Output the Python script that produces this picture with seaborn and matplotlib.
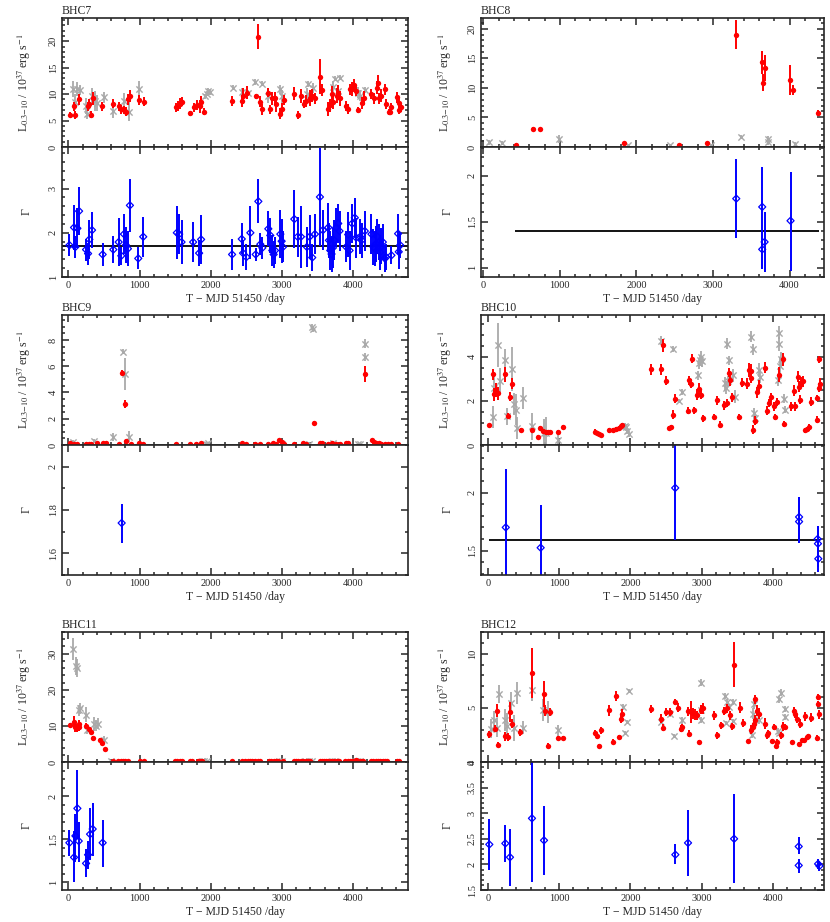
import numpy as np
import matplotlib
matplotlib.use("Agg")
import matplotlib.pyplot as plt
from matplotlib.ticker import MultipleLocator, FuncFormatter
import seaborn as sns

# ---------------- data ----------------
# BHC7
bhc7_red_x = [23, 79, 98, 150, 271, 290, 313, 341, 477, 631,
              710, 734, 780, 808, 832, 864, 986, 1061, 1509, 1542,
              1565, 1589, 1701, 1762, 1808, 1846, 1864, 1902, 2299, 2435,
              2453, 2509, 2631, 2668, 2696, 2724, 2808, 2836, 2864, 2902,
              2920, 2967, 2995, 3023, 3173, 3220, 3266, 3304, 3341, 3388,
              3425, 3463, 3533, 3565, 3650, 3668, 3696, 3715, 3771, 3790,
              3818, 3902, 3930, 3949, 3986, 4005, 4033, 4070, 4126, 4145,
              4257, 4294, 4332, 4350, 4369, 4388, 4444, 4463, 4500, 4519,
              4537, 4621, 4640, 4650, 4668]
bhc7_red_y = [6.1, 7.7, 6.1, 9.0, 7.7, 8.2, 6.1, 9.2, 7.7, 8.2,
              7.7, 7.1, 7.0, 6.7, 9.0, 9.7, 8.9, 8.6, 7.5, 7.8,
              8.2, 8.6, 6.4, 7.5, 7.9, 7.7, 8.6, 6.7, 8.7, 8.7,
              9.7, 10.3, 9.6, 20.9, 8.6, 7.1, 10.3, 7.1, 9.2, 9.2,
              8.1, 6.3, 7.2, 8.9, 10.1, 6.1, 9.7, 8.1, 8.7, 9.2,
              9.7, 9.2, 13.3, 10.8, 7.2, 7.9, 10.0, 8.5, 9.7, 10.3,
              9.2, 7.8, 7.2, 10.9, 10.9, 11.7, 10.6, 7.0, 8.3, 9.2,
              10.0, 9.2, 11.2, 12.2, 9.2, 9.7, 10.9, 8.1, 6.6, 6.6,
              7.5, 9.4, 8.3, 7.0, 7.5]
bhc7_red_e = [0.5, 0.8, 0.8, 1.0, 0.9, 0.8, 0.7, 1.2, 0.8, 0.9,
              0.9, 0.8, 0.8, 0.9, 1.0, 1.1, 1.0, 0.8, 0.9, 0.9,
              1.0, 0.9, 0.5, 0.8, 0.9, 1.2, 1.0, 0.6, 1.0, 1.1,
              1.5, 1.3, 0.5, 2.4, 1.0, 1.0, 0.8, 0.9, 1.2, 1.2,
              1.4, 1.0, 1.1, 1.0, 1.3, 0.8, 1.3, 0.8, 1.2, 1.5,
              1.2, 1.0, 3.3, 1.2, 1.4, 1.2, 1.5, 1.3, 1.4, 1.5,
              1.4, 0.9, 1.0, 1.1, 1.3, 1.2, 1.0, 0.5, 1.2, 1.3,
              1.0, 1.1, 1.2, 1.5, 1.0, 1.2, 1.0, 0.9, 0.6, 0.6,
              0.8, 1.0, 1.0, 0.7, 0.8]
bhc7_grey_x = [61, 98, 126, 164, 248, 266, 327, 369, 397, 500,
               631, 780, 846, 986, 1920, 1948, 1967, 1986, 2313, 2444,
               2520, 2617, 2724, 2810, 2977, 2995, 3350, 3360, 3388, 3435,
               3715, 3738, 3818, 3790, 4065, 4090, 4173]
bhc7_grey_y = [10.9, 8.5, 10.9, 10.8, 7.7, 6.3, 9.7, 8.7, 8.4, 9.4,
               6.8, 8.7, 6.7, 10.9, 9.6, 10.1, 10.6, 10.4, 11.2, 10.4,
               10.2, 12.3, 12.0, 9.6, 10.9, 9.6, 10.1, 11.9, 9.5, 11.2,
               11.4, 12.9, 13.1, 10.5, 10.3, 9.7, 10.8]
bhc7_grey_e = [1.5, 1.5, 1.3, 1.0, 1.5, 1.0, 1.5, 1.8, 1.5, 1.0,
               1.3, 1.5, 1.8, 1.5, 0.5, 0.5, 0.5, 0.5, 0.5, 0.8,
               0.5, 0.5, 0.4, 1.2, 0.8, 1.2, 1.0, 0.5, 1.0, 1.0,
               1.0, 0.5, 0.5, 1.0, 1.0, 1.0, 0.6]
bhc7_gam_x = [14, 79, 98, 126, 150, 248, 276, 294, 332, 481,
              631, 706, 743, 780, 808, 836, 864, 981, 1051, 1523,
              1556, 1589, 1752, 1836, 1864, 2299, 2435, 2453, 2500, 2556,
              2631, 2668, 2696, 2724, 2808, 2836, 2864, 2883, 2902, 2977,
              2995, 3014, 3173, 3220, 3266, 3350, 3388, 3425, 3463, 3533,
              3575, 3650, 3659, 3678, 3696, 3715, 3734, 3762, 3790, 3808,
              3902, 3930, 3949, 3986, 4023, 4042, 4098, 4117, 4163, 4257,
              4285, 4304, 4322, 4341, 4360, 4379, 4397, 4416, 4444, 4463,
              4537, 4631, 4640, 4660]
bhc7_gam_y = [1.72, 2.12, 1.68, 2.10, 2.49, 1.62, 1.53, 1.85, 2.06, 1.51,
              1.62, 1.79, 1.48, 1.97, 1.72, 1.64, 2.62, 1.42, 1.91, 2.00,
              1.97, 1.79, 1.79, 1.54, 1.85, 1.51, 1.86, 1.54, 1.45, 2.00,
              1.51, 2.71, 1.74, 1.66, 2.09, 1.94, 1.60, 1.51, 1.60, 1.97,
              1.81, 1.68, 2.31, 1.91, 1.91, 1.68, 1.91, 1.44, 1.97, 2.81,
              2.06, 2.12, 1.83, 1.60, 1.52, 1.66, 1.83, 2.12, 2.21, 2.04,
              1.68, 1.96, 1.60, 2.21, 2.34, 1.89, 1.91, 1.83, 2.04, 1.97,
              1.68, 1.64, 1.75, 1.91, 1.79, 1.56, 1.70, 1.79, 1.42, 1.45,
              1.49, 1.98, 1.57, 1.72]
bhc7_gam_e = [0.25, 0.5, 0.25, 0.45, 0.55, 0.25, 0.25, 0.45, 0.4, 0.25,
              0.3, 0.55, 0.2, 0.45, 0.4, 0.4, 0.6, 0.25, 0.45, 0.6,
              0.45, 0.5, 0.45, 0.3, 0.55, 0.35, 0.35, 0.3, 0.3, 0.6,
              0.15, 0.5, 0.25, 0.25, 0.4, 0.4, 0.35, 0.3, 0.3, 0.55,
              0.5, 0.35, 0.65, 0.45, 0.7, 0.45, 0.5, 0.3, 0.45, 1.1,
              0.45, 0.55, 0.4, 0.45, 0.4, 0.45, 0.45, 0.45, 0.45, 0.45,
              0.35, 0.5, 0.45, 0.45, 0.45, 0.45, 0.4, 0.4, 0.45, 0.45,
              0.4, 0.4, 0.4, 0.4, 0.4, 0.4, 0.4, 0.4, 0.3, 0.3,
              0.2, 0.45, 0.4, 0.3]
bhc7_fit = 1.70

# BHC8
bhc8_red_x = [422, 648, 743, 1835, 2552, 2917, 3304, 3639, 3648, 3674, 4009, 4039, 4378]
bhc8_red_y = [0.4, 3.1, 3.0, 0.7, 0.4, 0.7, 19.0, 14.3, 10.9, 13.3, 11.3, 9.6, 5.7]
bhc8_red_e = [0.1, 0.2, 0.2, 0.15, 0.1, 0.15, 2.5, 2.0, 1.5, 2.2, 2.5, 0.8, 0.5]
bhc8_grey_x = [74, 248, 987, 1891, 2439, 2978, 3361, 3717, 3717, 4065]
bhc8_grey_y = [0.8, 0.7, 1.4, 0.3, 0.3, 0.3, 1.7, 1.4, 0.8, 0.5]
bhc8_grey_e = [0.4, 0.3, 0.7, 0.2, 0.2, 0.2, 0.3, 0.5, 0.4, 0.3]
bhc8_gam_x = [3304, 3643, 3643, 3674, 4013]
bhc8_gam_y = [1.75, 1.66, 1.20, 1.28, 1.51]
bhc8_gam_lo = [0.43, 0.67, 0.21, 0.33, 0.54]
bhc8_gam_hi = [0.43, 0.43, 0.20, 0.33, 0.53]
bhc8_fit = 1.40
bhc8_fit_span = [420, 4380]

# BHC9
bhc9_red_x = [23, 79, 126, 248, 294, 322, 397, 490, 528, 705,
              748, 790, 804, 874, 986, 1051, 1509, 1705, 1799, 1864,
              2444, 2491, 2621, 2696, 2808, 2874, 2911, 2958, 3005, 3023,
              3173, 3294, 3341, 3453, 3528, 3565, 3640, 3696, 3762, 3818,
              3893, 3930, 4164, 4266, 4294, 4322, 4360, 4397, 4453, 4491,
              4537, 4631]
bhc9_red_y = [0.15, 0.10, 0.08, 0.08, 0.10, 0.08, 0.12, 0.15, 0.15, 0.08,
              5.50, 3.10, 0.30, 0.08, 0.15, 0.10, 0.10, 0.08, 0.10, 0.18,
              0.18, 0.08, 0.08, 0.10, 0.10, 0.15, 0.10, 0.35, 0.20, 0.08,
              0.08, 0.12, 0.08, 1.70, 0.18, 0.12, 0.10, 0.12, 0.10, 0.10,
              0.12, 0.12, 5.40, 0.35, 0.22, 0.15, 0.12, 0.10, 0.10, 0.10,
              0.10, 0.05]
bhc9_red_e = [0.05, 0.05, 0.05, 0.05, 0.05, 0.05, 0.05, 0.05, 0.05, 0.05,
              0.20, 0.30, 0.10, 0.05, 0.05, 0.05, 0.05, 0.05, 0.05, 0.05,
              0.05, 0.05, 0.05, 0.05, 0.05, 0.05, 0.05, 0.10, 0.05, 0.05,
              0.05, 0.05, 0.05, 0.15, 0.05, 0.05, 0.05, 0.05, 0.05, 0.05,
              0.05, 0.05, 0.60, 0.08, 0.05, 0.05, 0.05, 0.05, 0.05, 0.05,
              0.05, 0.05]
bhc9_grey_x = [61, 360, 621, 771, 794, 846, 1939, 1967, 3005, 3383,
               3425, 3432, 3715, 4065, 4090, 4173, 4173]
bhc9_grey_y = [0.25, 0.28, 0.63, 7.10, 5.40, 0.63, 0.10, 0.15, 0.10, 0.10,
               9.00, 8.80, 0.15, 0.08, 0.08, 7.70, 6.70]
bhc9_grey_e = [0.15, 0.15, 0.30, 0.20, 1.20, 0.40, 0.10, 0.10, 0.10, 0.10,
               0.25, 0.20, 0.10, 0.05, 0.05, 0.35, 0.30]
bhc9_gam_x = [748]
bhc9_gam_y = [1.74]
bhc9_gam_lo = [0.09]
bhc9_gam_hi = [0.09]

# BHC10
bhc10_red_x = [19, 75, 84, 112, 141, 244, 281, 309, 337, 468,
               618, 702, 731, 777, 815, 843, 871, 984, 1049, 1508,
               1536, 1560, 1583, 1696, 1761, 1799, 1836, 1864, 1883, 2295,
               2436, 2454, 2501, 2548, 2566, 2604, 2632, 2810, 2819, 2848,
               2866, 2894, 2932, 2970, 2988, 3026, 3171, 3218, 3265, 3311,
               3358, 3382, 3400, 3428, 3532, 3569, 3644, 3663, 3691, 3700,
               3724, 3747, 3775, 3803, 3888, 3916, 3953, 3981, 4019, 4037,
               4066, 4094, 4140, 4159, 4262, 4300, 4319, 4356, 4375, 4384,
               4403, 4421, 4459, 4478, 4506, 4534, 4628, 4628, 4646, 4660,
               4646]
bhc10_red_y = [0.89, 3.20, 2.30, 2.50, 2.35, 3.20, 1.33, 2.20, 2.78, 0.69,
               0.66, 0.38, 0.76, 0.64, 0.60, 0.58, 0.58, 0.58, 0.81, 0.61,
               0.55, 0.50, 0.46, 0.66, 0.69, 0.72, 0.78, 0.84, 0.89, 3.43,
               3.43, 4.53, 2.92, 0.76, 0.82, 1.37, 2.10, 1.56, 2.93, 2.78,
               3.92, 1.57, 2.29, 2.52, 2.29, 1.21, 1.27, 2.02, 0.92, 1.80,
               1.91, 3.28, 2.95, 2.17, 1.27, 2.82, 2.78, 3.40, 3.36, 3.05,
               0.69, 1.11, 2.40, 2.67, 3.51, 1.56, 1.91, 2.17, 1.76, 1.27,
               1.95, 3.19, 3.89, 0.95, 1.76, 2.47, 1.76, 3.10, 2.64, 2.06,
               2.82, 2.90, 0.66, 0.72, 0.80, 1.97, 2.14, 1.15, 2.60, 2.78,
               3.89]
bhc10_red_e = [0.08, 0.25, 0.30, 0.30, 0.30, 0.35, 0.10, 0.20, 0.25, 0.08,
               0.10, 0.06, 0.08, 0.10, 0.10, 0.10, 0.10, 0.10, 0.10, 0.10,
               0.08, 0.08, 0.08, 0.10, 0.10, 0.10, 0.10, 0.10, 0.10, 0.25,
               0.25, 0.30, 0.20, 0.10, 0.10, 0.20, 0.20, 0.15, 0.20, 0.20,
               0.20, 0.15, 0.25, 0.30, 0.20, 0.15, 0.15, 0.20, 0.15, 0.20,
               0.20, 0.20, 0.25, 0.20, 0.15, 0.20, 0.25, 0.30, 0.30, 0.25,
               0.20, 0.20, 0.25, 0.30, 0.25, 0.20, 0.20, 0.20, 0.20, 0.15,
               0.20, 0.35, 0.30, 0.15, 0.20, 0.25, 0.20, 0.25, 0.25, 0.20,
               0.25, 0.25, 0.10, 0.10, 0.15, 0.20, 0.15, 0.15, 0.20, 0.25,
               0.15]
bhc10_grey_x = [66, 84, 141, 173, 234, 272, 337, 365, 393, 412,
                487, 618, 787, 815, 984, 1920, 1939, 1958, 1977, 2436,
                2595, 2689, 2726, 2951, 2970, 2979, 2988, 3007, 3325, 3340,
                3353, 3372, 3382, 3447, 3466, 3700, 3724, 3738, 3757, 3803,
                3822, 4075, 4084, 4094, 4103, 4112, 4159, 4178]
bhc10_grey_y = [1.27, 2.60, 4.53, 2.90, 3.85, 1.30, 3.43, 1.88, 1.60, 0.76,
                2.14, 0.84, 0.56, 0.55, 0.23, 0.84, 0.80, 0.65, 0.50, 4.73,
                4.35, 2.00, 2.40, 3.16, 3.70, 3.85, 4.00, 3.80, 2.80, 2.60,
                4.60, 2.90, 3.85, 3.16, 2.20, 4.92, 4.35, 1.45, 1.22, 3.40,
                3.10, 2.93, 4.58, 5.10, 3.60, 3.90, 2.10, 1.60]
bhc10_grey_e = [0.5, 0.6, 1.0, 0.6, 0.5, 0.4, 1.0, 0.5, 0.7, 0.5,
                0.5, 0.6, 0.6, 0.7, 0.3, 0.15, 0.15, 0.15, 0.15, 0.2,
                0.15, 0.1, 0.15, 0.2, 0.25, 0.25, 0.25, 0.25, 0.3, 0.3,
                0.25, 0.25, 0.2, 0.3, 0.3, 0.25, 0.25, 0.25, 0.25, 0.3,
                0.3, 0.25, 0.3, 0.3, 0.4, 0.3, 0.2, 0.15]
bhc10_gam_x = [250, 740, 2630, 4370, 4370, 4630, 4635, 4640]
bhc10_gam_y = [1.70, 1.525, 2.04, 1.79, 1.75, 1.60, 1.56, 1.43]
bhc10_gam_lo = [0.50, 0.40, 0.45, 0.22, 0.18, 0.20, 0.20, 0.11]
bhc10_gam_hi = [0.50, 0.37, 0.60, 0.17, 0.21, 0.11, 0.15, 0.15]
bhc10_fit = 1.595
bhc10_fit_span = [15, 4660]

# BHC11
bhc11_red_x = [23, 79, 98, 126, 145, 155, 248, 294, 313, 341, 444, 472, 519]
bhc11_red_y = [10.3, 11.2, 9.6, 9.4, 10.5, 9.7, 10.0, 9.1, 8.4, 6.6, 6.1, 5.2, 3.5]
bhc11_red_e = [0.6, 1.5, 1.2, 1.2, 1.0, 1.0, 0.8, 0.7, 0.7, 0.6, 0.5, 0.5, 0.4]
bhc11_low_x = [621, 701, 734, 771, 799, 836, 1005, 1061, 1495, 1528,
               1565, 1589, 1706, 1743, 1818, 1846, 1874, 2294, 2444, 2481,
               2519, 2547, 2575, 2621, 2659, 2696, 2818, 2846, 2883, 2921,
               2949, 3014, 3173, 3201, 3229, 3266, 3294, 3332, 3360, 3397,
               3528, 3556, 3584, 3621, 3650, 3687, 3734, 3771, 3799, 3883,
               3921, 3949, 3986, 4014, 4042, 4070, 4107, 4136, 4257, 4285,
               4322, 4350, 4379, 4416, 4453, 4481, 4612, 4640]
bhc11_low_y = [0.3, 0.2, 0.25, 0.2, 0.3, 0.25, 0.3, 0.2, 0.25, 0.2,
               0.3, 0.2, 0.25, 0.2, 0.3, 0.25, 0.2, 0.3, 0.2, 0.25,
               0.3, 0.2, 0.25, 0.3, 0.2, 0.25, 0.2, 0.3, 0.25, 0.2,
               0.3, 0.25, 0.2, 0.3, 0.25, 0.2, 0.3, 0.25, 0.2, 0.3,
               0.25, 0.2, 0.3, 0.25, 0.2, 0.3, 0.25, 0.2, 0.3, 0.25,
               0.2, 0.3, 0.25, 0.2, 0.6, 0.3, 0.25, 0.2, 0.3, 0.25,
               0.2, 0.3, 0.25, 0.2, 0.3, 0.25, 0.2, 0.3]
bhc11_grey_x = [70, 107, 115, 154, 164, 248, 266, 360, 388, 416,
                500, 600, 1880, 1910, 1950, 2960, 3000, 3320, 3380, 3420,
                3700, 3740, 4020, 4060, 4090]
bhc11_grey_y = [31.3, 26.5, 26.0, 14.3, 14.9, 13.1, 8.9, 10.6, 10.1, 10.6,
                6.1, 0.3, 0.3, 0.3, 0.3, 0.4, 0.3, 0.3, 0.3, 0.3,
                0.3, 0.3, 0.4, 0.3, 0.3]
bhc11_grey_e = [3.0, 2.5, 2.5, 1.5, 1.5, 2.0, 1.2, 2.0, 1.5, 1.5,
                1.0, 0.2, 0.2, 0.2, 0.2, 0.3, 0.2, 0.2, 0.2, 0.2,
                0.2, 0.2, 0.3, 0.2, 0.2]
bhc11_gam_x = [14, 79, 98, 126, 145, 248, 276, 304, 341, 481]
bhc11_gam_y = [1.46, 1.29, 1.54, 1.86, 1.48, 1.22, 1.32, 1.56, 1.62, 1.46]
bhc11_gam_lo = [0.16, 0.29, 0.30, 0.36, 0.24, 0.16, 0.16, 0.30, 0.31, 0.28]
bhc11_gam_hi = [0.15, 0.31, 0.25, 0.45, 0.22, 0.17, 0.16, 0.30, 0.30, 0.27]

# BHC12
bhc12_red_x = [19, 94, 122, 141, 244, 281, 304, 337, 445, 618,
               782, 806, 838, 871, 984, 1049, 1508, 1527, 1555, 1593,
               1696, 1761, 1803, 1836, 1864, 1883, 2295, 2436, 2454, 2501,
               2557, 2623, 2670, 2707, 2726, 2810, 2829, 2848, 2876, 2904,
               2932, 2970, 2998, 3026, 3176, 3222, 3269, 3316, 3363, 3400,
               3428, 3457, 3541, 3578, 3653, 3691, 3719, 3738, 3747, 3756,
               3784, 3813, 3897, 3916, 3934, 3991, 4019, 4047, 4066, 4112,
               4140, 4168, 4272, 4300, 4318, 4347, 4365, 4384, 4412, 4440,
               4450, 4478, 4497, 4534, 4628, 4637, 4637, 4656]
bhc12_red_y = [2.55, 3.07, 4.72, 1.61, 2.36, 2.30, 4.63, 3.54, 2.73, 8.20,
               6.27, 4.72, 1.52, 4.63, 2.20, 2.24, 2.67, 2.42, 1.46, 2.92,
               4.78, 1.89, 6.09, 2.30, 4.00, 4.47, 4.90, 4.00, 3.17, 4.63,
               4.63, 5.53, 5.03, 3.07, 3.23, 4.69, 2.61, 4.60, 4.50, 4.40,
               4.30, 1.83, 4.84, 4.94, 4.32, 2.45, 3.39, 4.72, 4.94, 4.32,
               3.29, 8.98, 5.00, 3.60, 1.93, 2.98, 3.23, 3.54, 5.80, 3.85,
               4.72, 4.47, 3.54, 2.45, 2.67, 1.93, 3.23, 1.52, 1.83, 2.45,
               3.29, 3.23, 1.83, 4.72, 4.47, 4.00, 1.68, 3.54, 2.00, 2.00,
               4.22, 2.30, 2.36, 4.10, 2.20, 6.02, 5.34, 4.41]
bhc12_red_e = [0.3, 0.3, 0.6, 0.2, 0.4, 0.4, 0.9, 0.4, 0.3, 2.3,
               1.2, 0.5, 0.2, 0.4, 0.2, 0.2, 0.3, 0.3, 0.2, 0.3,
               0.5, 0.2, 0.5, 0.2, 0.4, 0.4, 0.4, 0.4, 0.3, 0.4,
               0.4, 0.3, 0.4, 0.3, 0.3, 0.4, 0.3, 1.0, 0.5, 0.5,
               0.4, 0.2, 0.4, 0.5, 0.4, 0.3, 0.3, 0.4, 0.4, 0.4,
               0.3, 2.1, 0.5, 0.4, 0.2, 0.4, 0.4, 0.4, 0.4, 0.5,
               0.5, 0.5, 0.5, 0.3, 0.3, 0.2, 0.3, 0.2, 0.3, 0.3,
               0.4, 0.3, 0.2, 0.4, 0.4, 0.4, 0.2, 0.4, 0.2, 0.2,
               0.4, 0.2, 0.2, 0.4, 0.3, 0.3, 0.3, 0.4]
bhc12_grey_x = [47, 84, 122, 159, 244, 262, 318, 365, 412, 487,
                618, 768, 843, 984, 1902, 1920, 1948, 1977, 2436, 2557,
                2614, 2726, 2988, 2988, 2998, 3335, 3344, 3363, 3382, 3438,
                3447, 3709, 3719, 3738, 3813, 4075, 4084, 4094, 4112, 4168,
                4178]
bhc12_grey_y = [3.07, 3.91, 3.17, 6.27, 3.85, 3.29, 5.47, 3.17, 6.40, 3.17,
                6.65, 4.78, 4.63, 2.92, 5.10, 2.70, 3.70, 6.55, 3.70, 4.41,
                2.39, 3.85, 7.33, 4.84, 3.90, 6.09, 3.60, 5.56, 5.09, 5.56,
                3.79, 2.52, 4.47, 5.40, 3.91, 2.86, 2.67, 5.78, 6.40, 4.16,
                4.88]
bhc12_grey_e = [0.9, 0.8, 0.9, 0.8, 1.0, 1.2, 1.0, 1.2, 1.0, 0.6,
                1.0, 1.0, 1.0, 0.5, 0.3, 0.2, 0.2, 0.2, 0.2, 0.3,
                0.2, 0.3, 0.3, 0.4, 0.3, 0.3, 0.2, 0.3, 0.3, 0.3,
                0.2, 0.3, 0.5, 0.5, 0.4, 0.3, 0.3, 0.3, 0.3, 0.3,
                0.3]
bhc12_gam_x = [19, 244, 309, 618, 787, 2632, 2810, 3457, 4365, 4365, 4637, 4656]
bhc12_gam_y = [2.39, 2.41, 2.14, 2.90, 2.47, 2.19, 2.42, 2.50, 2.35, 1.98, 2.01, 1.97]
bhc12_gam_lo = [0.50, 0.37, 0.56, 1.25, 0.68, 0.19, 0.65, 0.87, 0.14, 0.14, 0.10, 0.10]
bhc12_gam_hi = [0.49, 0.36, 0.56, 1.20, 0.68, 0.20, 0.65, 0.87, 0.18, 0.13, 0.10, 0.10]

# ---------------- style ----------------
sns.set_style("ticks")
plt.rcParams['font.family'] = ['Liberation Serif', 'DejaVu Serif']
plt.rcParams['mathtext.fontset'] = 'stix'
plt.rcParams['axes.linewidth'] = 1.2

RED = '#ff0000'
GREY = '#a9a9a9'
BLUE = '#0000ff'
XLAB = 'T \u2212 MJD 51450 /day'
LLAB = r'L$_{0.3\mathrm{-}10}$ / 10$^{37}$ erg s$^{-1}$'

fig = plt.figure(figsize=(8.3, 9.22), dpi=100)

L, LW = 62 / 830, 346 / 830
R, RW = 481 / 830, 343 / 830
rows = [((1 - 147 / 922, 129 / 922), (1 - 277 / 922, 130 / 922)),
        ((1 - 445 / 922, 130 / 922), (1 - 575 / 922, 130 / 922)),
        ((1 - 762 / 922, 130 / 922), (1 - 890 / 922, 128 / 922))]

fmt_g = FuncFormatter(lambda v, p: f'{v:g}')


def style_axis(ax, ymaj, ymin):
    ax.xaxis.set_major_locator(MultipleLocator(1000))
    ax.xaxis.set_minor_locator(MultipleLocator(200))
    ax.yaxis.set_major_locator(MultipleLocator(ymaj))
    ax.yaxis.set_minor_locator(MultipleLocator(ymin))
    ax.yaxis.set_major_formatter(fmt_g)
    ax.tick_params(which='both', direction='in', top=True, right=True,
                   width=1.1, labelsize=7.5, pad=3)
    ax.tick_params(which='major', length=5)
    ax.tick_params(which='minor', length=2.5)
    for lab in ax.get_yticklabels():
        lab.set_rotation(90)
        lab.set_va('center')


def panel(col, row, name, red, grey, gam, xlim, ylim_top, ylim_bot,
          ytop_tick, ybot_tick, low=None, fit=None, fit_span=None):
    x0, w = (L, LW) if col == 0 else (R, RW)
    (b1, h1), (b2, h2) = rows[row]
    ax1 = fig.add_axes([x0, b1, w, h1])
    ax2 = fig.add_axes([x0, b2, w, h2], sharex=ax1)

    # luminosity
    ax1.errorbar(grey[0], grey[1], yerr=grey[2], fmt='none', ecolor=GREY,
                 elinewidth=1.3, capsize=0, zorder=1)
    sns.scatterplot(x=grey[0], y=grey[1], ax=ax1, marker='x', color=GREY,
                    s=20, linewidth=1.0, zorder=2, legend=False)
    ax1.errorbar(red[0], red[1], yerr=red[2], fmt='none', ecolor=RED,
                 elinewidth=1.4, capsize=0, zorder=3)
    sns.scatterplot(x=red[0], y=red[1], ax=ax1, color=RED, s=15,
                    linewidth=0, zorder=4, legend=False)
    if low is not None:
        sns.scatterplot(x=low[0], y=low[1], ax=ax1, color=RED, s=15,
                        linewidth=0, zorder=4, legend=False)
    ax1.set_xlim(*xlim)
    ax1.set_ylim(*ylim_top)
    ax1.set_ylabel(LLAB, fontsize=8.5)
    ax1.set_xlabel('')
    ax1.set_title(name, loc='left', fontsize=8.5, pad=3)
    style_axis(ax1, *ytop_tick)
    plt.setp(ax1.get_xticklabels(), visible=False)

    # photon index
    if fit is not None:
        if fit_span is None:
            ax2.axhline(fit, color='black', lw=1.3, zorder=1)
        else:
            ax2.hlines(fit, fit_span[0], fit_span[1], color='black', lw=1.3, zorder=1)
    ax2.errorbar(gam[0], gam[1], yerr=[gam[2], gam[3]], fmt='none',
                 ecolor=BLUE, elinewidth=1.4, capsize=0, zorder=2)
    sns.scatterplot(x=gam[0], y=gam[1], ax=ax2, marker='D', s=13,
                    facecolor='none', edgecolor=BLUE, linewidth=0.9,
                    zorder=3, legend=False)
    ax2.set_ylim(*ylim_bot)
    ax2.set_ylabel('\u0393', fontsize=8.5)
    ax2.set_xlabel(XLAB, fontsize=8.5, labelpad=2)
    style_axis(ax2, *ybot_tick)

    lx = -0.085 if col == 0 else -0.08
    ax1.yaxis.set_label_coords(lx, 0.5)
    ax2.yaxis.set_label_coords(lx, 0.5)


panel(0, 0, 'BHC7', (bhc7_red_x, bhc7_red_y, bhc7_red_e),
      (bhc7_grey_x, bhc7_grey_y, bhc7_grey_e),
      (bhc7_gam_x, bhc7_gam_y, bhc7_gam_e, bhc7_gam_e),
      (-90, 4770), (0, 24.4), (1, 3.94), (5, 1), (1, 0.2), fit=bhc7_fit)
panel(1, 0, 'BHC8', (bhc8_red_x, bhc8_red_y, bhc8_red_e),
      (bhc8_grey_x, bhc8_grey_y, bhc8_grey_e),
      (bhc8_gam_x, bhc8_gam_y, bhc8_gam_lo, bhc8_gam_hi),
      (-30, 4450), (0, 21.8), (0.9, 2.31), (5, 1), (0.5, 0.1),
      fit=bhc8_fit, fit_span=bhc8_fit_span)
panel(0, 1, 'BHC9', (bhc9_red_x, bhc9_red_y, bhc9_red_e),
      (bhc9_grey_x, bhc9_grey_y, bhc9_grey_e),
      (bhc9_gam_x, bhc9_gam_y, bhc9_gam_lo, bhc9_gam_hi),
      (-90, 4770), (0, 9.9), (1.5, 2.1), (2, 0.5), (0.2, 0.1))
panel(1, 1, 'BHC10', (bhc10_red_x, bhc10_red_y, bhc10_red_e),
      (bhc10_grey_x, bhc10_grey_y, bhc10_grey_e),
      (bhc10_gam_x, bhc10_gam_y, bhc10_gam_lo, bhc10_gam_hi),
      (-98, 4720), (0, 5.9), (1.29, 2.41), (2, 0.5), (0.5, 0.1),
      fit=bhc10_fit, fit_span=bhc10_fit_span)
panel(0, 2, 'BHC11', (bhc11_red_x, bhc11_red_y, bhc11_red_e),
      (bhc11_grey_x, bhc11_grey_y, bhc11_grey_e),
      (bhc11_gam_x, bhc11_gam_y, bhc11_gam_lo, bhc11_gam_hi),
      (-90, 4770), (0, 36), (0.91, 2.4), (10, 2), (0.5, 0.1),
      low=(bhc11_low_x, bhc11_low_y))
panel(1, 2, 'BHC12', (bhc12_red_x, bhc12_red_y, bhc12_red_e),
      (bhc12_grey_x, bhc12_grey_y, bhc12_grey_e),
      (bhc12_gam_x, bhc12_gam_y, bhc12_gam_lo, bhc12_gam_hi),
      (-98, 4720), (0, 12), (1.5, 4.0), (5, 1), (0.5, 0.1))

fig.savefig('out.png', dpi=100)
